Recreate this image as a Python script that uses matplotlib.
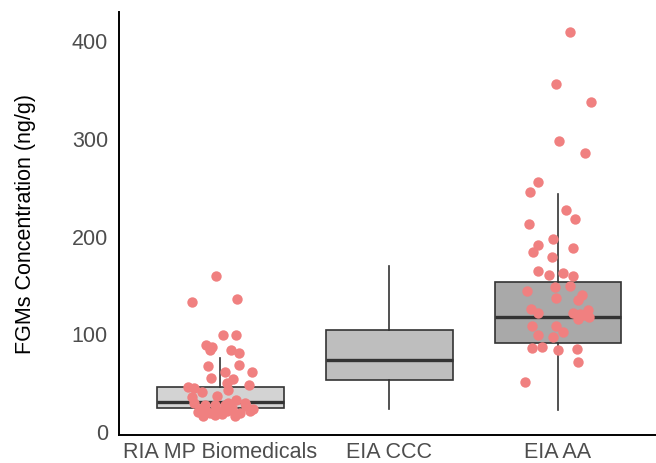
import matplotlib
matplotlib.use("Agg")
import matplotlib.pyplot as plt

plt.rcParams['font.family'] = ['Liberation Sans', 'DejaVu Sans']

categories = ["RIA MP Biomedicals", "EIA CCC", "EIA AA"]
box_fill = ["#d3d3d3", "#bebebe", "#a9a9a9"]

# box summary stats: whisker low, Q1, median, Q3, whisker high
whislo = [16, 24, 23]
q1 = [25, 53, 91]
med = [31, 74, 118]
q3 = [46, 104, 153]
whishi = [76, 170, 244]

# jittered observations (x offset from category centre, value)
ria_offset = [-0.024, -0.166, 0.101, 0.018, 0.095, -0.083, -0.047, -0.059, 0.065, 0.112,
              -0.071, 0.112, 0.030, 0.189, -0.053, 0.077, 0.041, 0.172, -0.189, -0.154,
              -0.107, 0.047, -0.166, -0.018, -0.154, -0.089, -0.030, 0.030, 0.095, 0.148,
              -0.130, -0.077, -0.012, 0.041, 0.178, -0.101, -0.030, 0.089, 0.195, 0.012,
              0.154, -0.118, 0.071, -0.059, 0.118, 0.047]
ria_value = [160, 133, 136, 99, 99, 89, 87, 84, 84, 81,
             68, 69, 61, 61, 55, 54, 50, 48, 46, 45,
             41, 43, 36, 37, 30, 28, 28, 28, 33, 30,
             21, 21, 22, 22, 22, 16, 17, 16, 24, 18,
             27, 24, 25, 19, 20, 30]

aa_offset = [0.071, -0.012, 0.195, 0.006, 0.160, -0.118, -0.166, 0.047, 0.101, -0.172,
             -0.030, -0.118, -0.148, 0.089, -0.036, -0.118, -0.053, 0.030, 0.089, 0.071,
             -0.018, -0.183, -0.012, 0.118, 0.142, 0.089, 0.130, 0.178, 0.183, 0.118,
             -0.118, -0.160, -0.154, -0.012, 0.030, -0.118, -0.030, -0.154, -0.095, 0.0,
             0.112, 0.118, -0.195, 0.154]
aa_value = [409, 356, 338, 298, 285, 256, 246, 227, 218, 213,
            198, 191, 184, 188, 179, 165, 161, 163, 160, 149,
            148, 144, 137, 135, 140, 122, 121, 125, 118, 116,
            122, 126, 108, 109, 102, 99, 97, 86, 87, 84,
            85, 72, 51, 120]

yticks = [0, 100, 200, 300, 400]

fig = plt.figure(figsize=(6.56, 4.63), dpi=100)
ax = fig.add_axes([119/656, 28/463, 1 - 119/656, 423/463])

positions = [1, 2, 3]
stats = []
for i in range(3):
    stats.append(dict(med=med[i], q1=q1[i], q3=q3[i], whislo=whislo[i], whishi=whishi[i],
                      fliers=[], label=categories[i]))
bp = ax.bxp(stats, positions=positions, widths=0.75, patch_artist=True, showcaps=False,
            boxprops=dict(edgecolor="#333333", linewidth=1.2),
            medianprops=dict(color="#333333", linewidth=2.4),
            whiskerprops=dict(color="#333333", linewidth=1.2))
for patch, c in zip(bp['boxes'], box_fill):
    patch.set_facecolor(c)

ax.scatter([1 + o for o in ria_offset], ria_value, s=56, color="#F08080", zorder=5, linewidths=0)
ax.scatter([3 + o for o in aa_offset], aa_value, s=56, color="#F08080", zorder=5, linewidths=0)

ax.set_xlim(0.4, 3.58)
ax.set_ylim(-3, 429.7)
ax.set_xticks(positions)
ax.set_xticklabels(categories)
ax.set_yticks(yticks)
ax.tick_params(axis='both', length=0, labelsize=15.5, labelcolor="#4d4d4d")
ax.tick_params(axis='y', pad=8)
ax.tick_params(axis='x', pad=5)
ax.set_ylabel("FGMs Concentration (ng/g)", fontsize=15.5, color="black", labelpad=26)
for s in ["top", "right"]:
    ax.spines[s].set_visible(False)
for s in ["left", "bottom"]:
    ax.spines[s].set_linewidth(1.4)
    ax.spines[s].set_color("black")

fig.savefig("out.png", dpi=100)
